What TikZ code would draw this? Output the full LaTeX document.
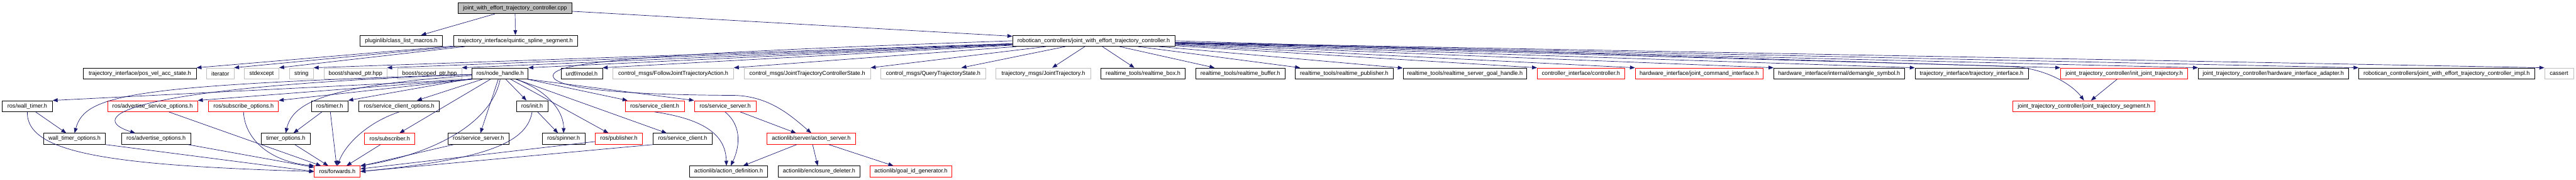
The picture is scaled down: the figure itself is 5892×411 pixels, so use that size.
\documentclass[tikz,border=0pt]{standalone}
\usepackage{fontspec}
\newfontfamily\dotfont{Liberation Sans}
\usetikzlibrary{arrows.meta,calc}
\definecolor{edgeblue}{HTML}{191970}
\definecolor{sysgray}{HTML}{BFBFBF}
\tikzset{
  hfile/.style={draw=black,fill=white,line width=0.75pt,inner sep=0pt,minimum height=19pt,
    font=\dotfont\fontsize{9.8}{11}\selectfont},
  sysfile/.style={hfile,draw=sysgray},
  badfile/.style={hfile,draw=red},
  rootfile/.style={hfile,fill=sysgray},
  bw/.style={minimum width=#1*0.75pt},
  incl/.style={-{Triangle[length=8.5pt,width=6.5pt]},edgeblue,line width=0.75pt},
}

\begin{document}
\begin{tikzpicture}[x=0.75pt,y=-0.75pt]
  \useasboundingbox (0,0) rectangle (5892,411);
  % rank 0 and 1
  \node[rootfile,bw=260] (cpp) at (1178,18.5) {joint\_with\_effort\_trajectory\_controller.cpp};
  \node[hfile,bw=189] (macros) at (917.5,93.3) {pluginlib/class\_list\_macros.h};
  \node[hfile,bw=284] (quintic) at (1179,93.3) {trajectory\_interface/quintic\_spline\_segment.h};
  \node[hfile,bw=371] (ctrlh) at (2501.5,93.3) {robotican\_controllers/joint\_with\_effort\_trajectory\_controller.h};
  % rank 2
  \node[hfile,bw=258] (posvel) at (320,168) {trajectory\_interface/pos\_vel\_acc\_state.h};
  \node[sysfile,bw=62] (iterator) at (504,168) {iterator};
  \node[sysfile,bw=79] (stdexcept) at (598.5,168) {stdexcept};
  \node[sysfile,bw=55] (string) at (689.5,168) {string};
  \node[sysfile,bw=144] (sharedptr) at (813,168) {boost/shared\_ptr.hpp};
  \node[sysfile,bw=147] (scopedptr) at (982.5,168) {boost/scoped\_ptr.hpp};
  \node[hfile,bw=128] (nodehandle) at (1144,168) {ros/node\_handle.h};
  \node[hfile,bw=95] (urdf) at (1330.5,168) {urdf/model.h};
  \node[sysfile,bw=276] (follow) at (1540,168) {control\_msgs/FollowJointTrajectoryAction.h};
  \node[sysfile,bw=289] (ctrlstate) at (1846.5,168) {control\_msgs/JointTrajectoryControllerState.h};
  \node[sysfile,bw=239] (query) at (2134.5,168) {control\_msgs/QueryTrajectoryState.h};
  \node[sysfile,bw=217] (jointtraj) at (2386.5,168) {trajectory\_msgs/JointTrajectory.h};
  \node[hfile,bw=193] (rtbox) at (2614.5,168) {realtime\_tools/realtime\_box.h};
  \node[hfile,bw=204] (rtbuffer) at (2837,168) {realtime\_tools/realtime\_buffer.h};
  \node[hfile,bw=223] (rtpub) at (3074.5,168) {realtime\_tools/realtime\_publisher.h};
  \node[hfile,bw=283] (rtgoal) at (3350.5,168) {realtime\_tools/realtime\_server\_goal\_handle.h};
  \node[badfile,bw=200] (controller) at (3616,168) {controller\_interface/controller.h};
  \node[badfile,bw=293] (jointcmd) at (3886.5,168) {hardware\_interface/joint\_command\_interface.h};
  \node[hfile,bw=299] (demangle) at (4206.5,168) {hardware\_interface/internal/demangle\_symbol.h};
  \node[hfile,bw=259] (trajif) at (4509.5,168) {trajectory\_interface/trajectory\_interface.h};
  \node[badfile,bw=291] (initjt) at (4858.5,168) {joint\_trajectory\_controller/init\_joint\_trajectory.h};
  \node[hfile,bw=343] (hwadapter) at (5199.5,168) {joint\_trajectory\_controller/hardware\_interface\_adapter.h};
  \node[hfile,bw=402] (impl) at (5596,168) {robotican\_controllers/joint\_with\_effort\_trajectory\_controller\_impl.h};
  \node[sysfile,bw=66] (cassert) at (5853,168) {cassert};
  % rank 3
  \node[hfile,bw=115] (walltimer) at (62.5,242.7) {ros/wall\_timer.h};
  \node[badfile,bw=206] (advsrvopt) at (349,242.7) {ros/advertise\_service\_options.h};
  \node[badfile,bw=160] (subopt) at (557,242.7) {ros/subscribe\_options.h};
  \node[hfile,bw=84] (timer) at (754,242.7) {ros/timer.h};
  \node[hfile,bw=184] (srvcliopt) at (913,242.7) {ros/service\_client\_options.h};
  \node[hfile,bw=72] (init) at (1217,242.7) {ros/init.h};
  \node[badfile,bw=135] (srvclientR) at (1497.5,242.7) {ros/service\_client.h};
  \node[badfile,bw=141] (srvserverR) at (1658.5,242.7) {ros/service\_server.h};
  \node[badfile,bw=325] (jtseg) at (4766.5,242.7) {joint\_trajectory\_controller/joint\_trajectory\_segment.h};
  % rank 4
  \node[hfile,bw=141] (walltimeropt) at (170.5,317.3) {wall\_timer\_options.h};
  \node[hfile,bw=158] (advopt) at (357,317.3) {ros/advertise\_options.h};
  \node[hfile,bw=111] (timeropt) at (653.5,317.3) {timer\_options.h};
  \node[badfile,bw=115] (subscriber) at (891.5,317.3) {ros/subscriber.h};
  \node[hfile,bw=139] (srvserver) at (1094.5,317.3) {ros/service\_server.h};
  \node[hfile,bw=98] (spinner) at (1289,317.3) {ros/spinner.h};
  \node[badfile,bw=107] (publisher) at (1415.5,317.3) {ros/publisher.h};
  \node[hfile,bw=135] (srvclient) at (1561.5,317.3) {ros/service\_client.h};
  \node[badfile,bw=203] (actserver) at (1855.5,317.3) {actionlib/server/action\_server.h};
  % rank 5
  \node[badfile,bw=105] (forwards) at (771.5,392) {ros/forwards.h};
  \node[hfile,bw=179] (actdef) at (1666.5,392) {actionlib/action\_definition.h};
  \node[hfile,bw=187] (enclosure) at (1873.5,392) {actionlib/enclosure\_deleter.h};
  \node[badfile,bw=187] (goalid) at (2083.5,392) {actionlib/goal\_id\_generator.h};

  % includes
  \foreach \f in {macros,quintic,ctrlh}
    \draw[incl] (cpp) -- (\f);
  \foreach \f in {posvel,iterator,stdexcept}
    \draw[incl] (quintic) -- (\f.north east);
  \foreach \f in {string,sharedptr,scopedptr,nodehandle,urdf,follow,ctrlstate}
    \draw[incl] (ctrlh) -- (\f.north east);
  \foreach \f in {query,jointtraj,rtbox,rtbuffer,rtpub,rtgoal}
    \draw[incl] (ctrlh) -- (\f);
  \foreach \f in {controller,jointcmd,demangle,trajif,initjt,hwadapter,impl,cassert}
    \draw[incl] (ctrlh) -- (\f.north west);
  \draw[incl] (ctrlh.east) -- (4600,152) .. controls (4690,157) and (4745,200) .. (jtseg.north);
  \draw[incl] (ctrlh.west) .. controls (1400,125) and (1240,145) .. (1268,180)
    .. controls (1300,210) and (1500,217) .. (1680,218)
    .. controls (1760,220) and (1810,265) .. (actserver.north);
  \draw[incl] (initjt) -- (jtseg);

  \foreach \f in {walltimer,advsrvopt,subopt}
    \draw[incl] (nodehandle.south west) -- (\f.north east);
  \draw[incl] (nodehandle) -- (timer.north east);
  \foreach \f in {srvcliopt,subscriber,srvserver,init,publisher,srvclient,srvclientR}
    \draw[incl] (nodehandle) -- (\f);
  \draw[incl] (nodehandle.south east) -- (srvserverR.north west);
  \draw[incl] (nodehandle) .. controls (300,195) and (195,215) .. (walltimeropt.north);
  \draw[incl] (nodehandle) .. controls (260,200) and (200,270) .. ($(advopt.north west)!0.2!(advopt.north east)$);
  \draw[incl] (nodehandle) .. controls (760,195) and (670,230) .. (timeropt.north);
  \draw[incl] (nodehandle) .. controls (1260,210) and (1290,260) .. (spinner.north);
  \draw[incl] (nodehandle.south) .. controls (1120,300) and (950,360) .. (forwards.north east);

  \draw[incl] (walltimer) -- (walltimeropt);
  \draw[incl] (walltimer.south) .. controls (60,350) and (250,378) .. (forwards.west);
  \draw[incl] (advsrvopt) -- (forwards);
  \draw[incl] (subopt.south) .. controls (560,320) and (620,370) .. (forwards.north west);
  \draw[incl] (timer) -- (timeropt);
  \draw[incl] (timer) -- (forwards);
  \draw[incl] (srvcliopt.south) .. controls (840,280) and (790,330) .. (forwards.north);
  \draw[incl] (init) -- (spinner);
  \draw[incl] (init.south) .. controls (1205,330) and (1100,365) .. (forwards.east);
  \draw[incl] (srvclientR.south) .. controls (1630,275) and (1660,320) .. ($(actdef.north)+(-5,0)$);
  \draw[incl] (srvserverR.south) .. controls (1700,290) and (1690,340) .. ($(actdef.north)+(5,0)$);
  \draw[incl] (srvserverR) -- (actserver);

  \draw[incl] (walltimeropt.south east) -- (forwards.west);
  \foreach \f in {advopt,timeropt,subscriber,srvserver,publisher}
    \draw[incl] (\f) -- (forwards);
  \draw[incl] (srvclient.south west) -- (forwards.east);
  \foreach \f in {actdef,enclosure,goalid}
    \draw[incl] (actserver) -- (\f);
\end{tikzpicture}
\end{document}
